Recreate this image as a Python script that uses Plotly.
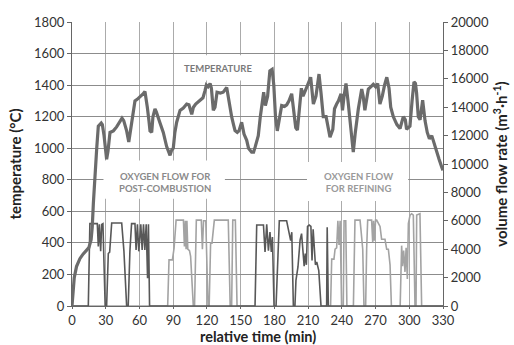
import plotly.graph_objects as go

# ---------------- data ----------------
temp_t = [0, 1, 2, 4, 7, 10, 13, 15, 17, 18, 19, 20.5, 22, 23.4, 24.5, 26, 27, 28.5, 30.8, 32, 33.8,
          36.8, 39.7, 42.7, 44.5, 46, 48.6, 50.5, 52, 53.5, 56, 58, 60.5, 63.4, 64.9, 66, 67, 68.5,
          69.4, 70.9, 72, 73.8, 75, 78.3, 81.2, 84.2, 86, 87.2, 88.5, 90.1, 91.5, 93.1, 96.1, 99,
          102, 104, 106.5, 108, 110, 113.9, 116.5, 118.3, 119.5, 121, 122.8, 124, 125.7, 127.2, 129,
          132, 134.5, 137.6, 139, 140.5, 142, 143.5, 145, 147, 148.5, 150.9, 153, 155.4, 157, 159.8,
          161.5, 163, 165.7, 167.5, 169, 170.5, 172, 174, 176, 178, 179.5, 181, 182.6, 184.5, 186.5,
          189, 191, 193, 195.4, 197, 199, 200.5, 202, 204, 205.5, 207, 209, 212.3, 214.7, 217, 219.7,
          221.5, 223.5, 226, 229.5, 232, 233.5, 235.4, 237, 239.3, 240.6, 242, 243.7, 245.5, 247.3,
          249, 250.2, 252, 254.7, 257.7, 259, 260.5, 262, 263.6, 266, 268, 270, 271.9, 273.9, 276,
          278, 280, 282, 283.5, 285.8, 289, 291.8, 294.7, 296.5, 297.6, 299, 300.6, 302.5, 304.2,
          305.5, 306.5, 308, 309.6, 311.9, 313, 314, 316, 317.9, 320, 322, 324.4, 326.5, 328.9, 330]
temp_v = [0, 100, 180, 250, 300, 330, 350, 370, 420, 500, 650, 850, 1000, 1140, 1150, 1160, 1150, 1080, 930, 980, 1100,
          1110, 1135, 1165, 1190, 1175, 1110, 1040, 1120, 1200, 1300, 1310, 1325, 1345, 1360, 1320, 1260, 1170,
          1110, 1100, 1200, 1250, 1230, 1160, 1100, 1010, 970, 955, 985, 1000, 1100, 1165, 1240, 1255,
          1280, 1275, 1215, 1260, 1280, 1305, 1320, 1365, 1400, 1390, 1410, 1380, 1240, 1260, 1355,
          1350, 1355, 1385, 1320, 1260, 1200, 1155, 1112, 1100, 1110, 1165, 1090, 1050, 1000, 975,
          975, 1010, 1080, 1200, 1290, 1355, 1270, 1330, 1490, 1500, 1400, 1200, 1110, 1200, 1270,
          1265, 1275, 1300, 1345, 1250, 1130, 1115, 1250, 1380, 1330, 1360, 1390, 1450, 1280, 1330, 1470,
          1350, 1200, 1200, 1070, 1120, 1250, 1280, 1300, 1345, 1240, 1330, 1410, 1300, 1160,
          1050, 975, 1100, 1250, 1375, 1330, 1240, 1300, 1375, 1390, 1405, 1390, 1410, 1280, 1330,
          1400, 1450, 1380, 1260, 1200, 1150, 1125, 1200, 1180, 1120, 1130, 1140, 1300, 1420,
          1410, 1350, 1200, 1180, 1305, 1240, 1175, 1100, 1060, 1080, 1030, 985, 930, 880, 860]

post_t = [0, 14.5, 15.9, 22.5, 23.4, 24.3, 25.5, 26.4, 27.5, 28.5, 29.5, 30.8, 32.3, 33.5, 35.3, 44.2,
          46.2, 48.6, 50, 51.5, 53, 56, 57, 58.2, 59.4, 61.2, 62.4, 63.6, 64.8, 66, 67.2, 68, 69,
          162.8, 164.3, 170.3, 171.7, 173.2, 174.7, 176.1, 177.3, 178.3, 179.7, 181.5, 184.4, 190.9,
          193.3, 194.5, 195.5, 196.9, 198.3, 199.2, 201, 202.9, 204.2, 205.5, 206.5, 207.5, 208.5,
          209.5, 211, 212.5, 213.5, 214.5, 215.5, 216.5, 217.7, 219.5, 221.5, 226.5, 227, 228, 330]
post_v = [0, 0, 5800, 5800, 4200, 5750, 3850, 5750, 5800, 3000, 0, 0, 3700, 3800, 5850, 5850,
          3850, 0, 0, 3850, 5800, 5800, 3950, 5750, 3850, 5750, 3950, 5750, 3950, 5750, 1950, 5750, 0,
          0, 5700, 5700, 3800, 5750, 3900, 5200, 3800, 4850, 0, 0, 6000, 6000,
          5200, 4600, 5200, 0, 0, 1800, 2750, 4650, 5100, 3900, 2800, 3700, 2900,
          5600, 5700, 5600, 3200, 5400, 4100, 2900, 3100, 2500, 0, 0, 5550, 0, 0]

refine_t = [0, 85.1, 86.3, 89.3, 90.8, 92.6, 99.1, 100, 100.8, 101.5, 102.2, 103, 104.5, 105.5, 107.9,
            109, 110.6, 115, 116, 117, 119, 121, 122, 123.3, 124.5, 126.6, 139, 140.7, 142, 143,
            145.3, 146.8, 230, 231, 233, 234, 235.4, 236.5, 237.5, 238.5, 239.8, 241.3, 242, 243.5,
            244.5, 250.3, 251.7, 256.2, 257, 258.6, 259.7, 261.2, 262.1, 263, 266.5, 267.5, 268.2,
            269, 270, 271, 274, 275.4, 278.4, 279.9, 281.4, 282.9, 284.1, 291.9, 293.2, 294, 295,
            296.2, 297.2, 298.3, 299.2, 300.7, 302.1, 303.6, 305.1, 306, 306.6, 309.5, 311, 330]
refine_v = [0, 0, 3250, 3250, 4070, 6050, 6050, 4200, 6000, 4000, 6000, 4000, 3900, 3500, 0,
            0, 6050, 6050, 4000, 6000, 6000, 0, 0, 4430, 4430, 6050, 6050, 0, 0, 6050,
            6050, 0, 0, 3300, 3300, 4000, 4100, 6000, 4300, 6000, 0, 0, 6000, 6000,
            0, 0, 6050, 6050, 5400, 4000, 0, 0, 4030, 6050, 6050, 4500, 6000,
            4600, 6050, 6050, 5600, 4700, 4700, 4000, 4000, 2900, 0, 0, 4250, 2800, 3900,
            2400, 4100, 1900, 5800, 6400, 6500, 6400, 0, 0, 6400, 6500, 0, 0]

x_ticks = list(range(0, 331, 30))
temp_ticks = list(range(0, 1801, 200))
flow_ticks = list(range(0, 20001, 2000))

labels = ["TEMPERATURE", "OXYGEN FLOW FOR<br>POST-COMBUSTION", "OXYGEN FLOW<br>FOR REFINING"]

FONT = "Lato, 'Open Sans', sans-serif"

fig = go.Figure()
fig.add_trace(go.Scatter(x=refine_t, y=refine_v, yaxis="y2", mode="lines",
                         line=dict(color="#a3a3a3", width=1.6), name="refining"))
fig.add_trace(go.Scatter(x=post_t, y=post_v, yaxis="y2", mode="lines",
                         line=dict(color="#585858", width=1.6), name="post-combustion"))
# temperature on an overlaying copy of the left axis so it draws on top
fig.add_trace(go.Scatter(x=temp_t, y=temp_v, yaxis="y3", mode="lines",
                         line=dict(color="#6b6b6b", width=3.2), name="temperature"))

# white label boxes that hide gridlines (between grid and traces)
boxes = [(91, 171.5, 1430, 1590), (28, 136, 680, 922), (209, 299, 665, 912)]
for x0, x1, y0, y1 in boxes:
    fig.add_shape(type="rect", xref="x", yref="y", x0=x0, x1=x1, y0=y0, y1=y1,
                  fillcolor="white", line=dict(width=0), layer="between")

ann_pos = [(129.5, 1508), (82.5, 783), (254.5, 783)]
ann_col = ["#7a7a7a", "#8a8a8a", "#9a9a9a"]
for txt, (ax_, ay_), c in zip(labels, ann_pos, ann_col):
    fig.add_annotation(x=ax_, y=ay_, xref="x", yref="y", text="<b>" + txt + "</b>", showarrow=False,
                       font=dict(family=FONT, size=9.5, color=c), align="center")

title_font = dict(family=FONT, size=15, color="#222222")
# x-axis title placed below the tick labels
fig.add_annotation(x=0.5, y=0, xref="paper", yref="paper", yshift=-30, yanchor="middle",
                   text="<b>relative time (min)</b>", showarrow=False,
                   font=dict(family=FONT, size=14.5, color="#222222"))

axis_common = dict(showline=True, linecolor="#666666", linewidth=1.3, ticks="outside",
                   tickcolor="#666666", zeroline=False, automargin=False)

fig.update_layout(
    width=514, height=345,
    margin=dict(l=72, r=71, t=22, b=39, autoexpand=False),
    paper_bgcolor="white", plot_bgcolor="white",
    showlegend=False,
    font=dict(family=FONT, size=13, color="#333333"),
    xaxis=dict(range=[0, 330], tickvals=x_ticks, showgrid=True, gridcolor="#ababab", gridwidth=1,
               ticklen=2, **axis_common),
    yaxis=dict(range=[0, 1800], tickvals=temp_ticks, showgrid=True, gridcolor="#8c8c8c", gridwidth=1,
               ticklen=4, title=dict(text="<b>temperature (°C)</b>", font=title_font, standoff=8),
               **axis_common),
    yaxis2=dict(range=[0, 20000], tickvals=flow_ticks, tickformat="d", overlaying="y", side="right",
                showgrid=False, ticklen=4,
                title=dict(text="<b>volume flow rate (m<sup>3</sup>·h<sup>-1</sup>)</b>",
                           font=title_font, standoff=8),
                **axis_common),
    yaxis3=dict(range=[0, 1800], overlaying="y", visible=False),
)

fig.write_html("out.html")
